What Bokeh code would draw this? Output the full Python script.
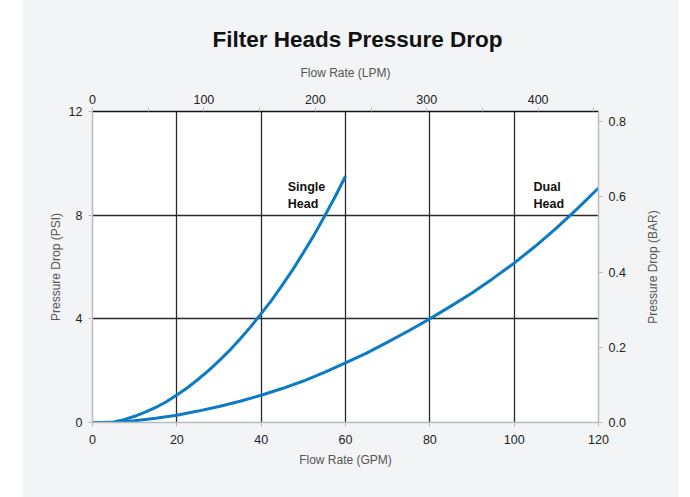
import math
from bokeh.plotting import figure
from bokeh.models import (Range1d, LinearAxis, FixedTicker, Spacer, ColumnDataSource,
                          NumeralTickFormatter)
from bokeh.layouts import row
from bokeh.embed import file_html
from bokeh.resources import INLINE
from bokeh.core.properties import value

# ---- data ----
single_gpm = [0, 2.5, 5, 7.5, 10, 12.5, 15, 17.5, 20, 22.5, 25, 27.5, 30, 32.5, 35, 37.5,
              40, 42.5, 45, 47.5, 50, 52.5, 55, 57.5, 60]
single_psi = [0, 0, 0.02, 0.11, 0.24, 0.4, 0.58, 0.8, 1.06, 1.34, 1.66, 2.0, 2.38, 2.78,
              3.22, 3.69, 4.2, 4.72, 5.3, 5.9, 6.55, 7.22, 7.95, 8.7, 9.5]
dual_gpm = [0, 5, 7.5, 10, 15, 20, 25, 30, 35, 40, 45, 50, 55, 60, 65, 70, 75, 80, 85, 90,
            95, 100, 105, 110, 115, 120]
dual_psi = [0, 0, 0.03, 0.07, 0.16, 0.28, 0.44, 0.62, 0.82, 1.05, 1.31, 1.6, 1.93, 2.3,
            2.68, 3.1, 3.54, 4.0, 4.49, 5.0, 5.56, 6.15, 6.8, 7.5, 8.25, 9.05]
label_text = ["Single\nHead", "Dual\nHead"]
label_gpm = [46.3, 104.6]
label_psi = [9.35, 9.35]

gpm_ticks = [0, 20, 40, 60, 80, 100, 120]
psi_ticks = [0, 4, 8, 12]
lpm_ticks = [0, 100, 200, 300, 400]
lpm_minor = [50, 150, 250, 350, 450]
bar_ticks = [0.0, 0.2, 0.4, 0.6, 0.8]
GPM_MAX = 120
PSI_MAX = 12
LPM_PER_GPM = 3.785
PSI_PER_BAR = 14.5038

FONT = "Liberation Sans"
BG = "#f3f4f6"
BLUE = "#0a7bc4"

p = figure(width=617, height=497, output_backend="svg", toolbar_location=None,
           x_range=Range1d(0, GPM_MAX), y_range=Range1d(0, PSI_MAX),
           min_border_left=69, min_border_right=42, min_border_top=111, min_border_bottom=75,
           background_fill_color="white", border_fill_color=BG, outline_line_color=None)

p.extra_x_ranges = {"lpm": Range1d(0, GPM_MAX * LPM_PER_GPM)}
p.extra_y_ranges = {"bar": Range1d(0, PSI_MAX / PSI_PER_BAR)}

p.title.text = "Filter Heads Pressure Drop"
p.title.align = "left"
p.title.offset = 120
p.title.text_font = FONT
p.title.text_font_size = "22.5px"
p.title.text_font_style = "bold"
p.title.text_color = "#111111"
p.title.standoff = 22

def style_axis(ax, label):
    ax.axis_label = label
    ax.axis_label_text_font = FONT
    ax.axis_label_text_font_size = "12px"
    ax.axis_label_text_font_style = "normal"
    ax.axis_label_text_color = "#555555"
    ax.major_label_text_font = FONT
    ax.major_label_text_font_size = "12.5px"
    ax.major_label_text_color = "#222222"
    ax.axis_line_color = "#bbbbbb"
    ax.axis_line_width = 1.5
    ax.major_tick_line_color = "#bbbbbb"
    ax.major_tick_in = 0
    ax.major_tick_out = 4
    ax.minor_tick_line_color = None

# bottom axis (GPM)
xa = p.xaxis[0]
xa.ticker = FixedTicker(ticks=gpm_ticks)
style_axis(xa, "Flow Rate (GPM)")
xa.major_label_standoff = 8
xa.axis_label_standoff = 6

# left axis (PSI)
ya = p.yaxis[0]
ya.ticker = FixedTicker(ticks=psi_ticks)
style_axis(ya, "Pressure Drop (PSI)")
ya.major_label_standoff = 6
ya.axis_label_standoff = 3

# top axis (LPM)
top = LinearAxis(x_range_name="lpm", ticker=FixedTicker(ticks=lpm_ticks, minor_ticks=lpm_minor))
style_axis(top, "Flow Rate (LPM)")
top.axis_line_color = "#111111"
top.minor_tick_line_color = "#bbbbbb"
top.minor_tick_in = 0
top.minor_tick_out = 4
top.major_label_standoff = 4
top.axis_label_standoff = 12
p.add_layout(top, "above")

# right axis (BAR); its title is drawn by the narrow panel to the right
right = LinearAxis(y_range_name="bar", ticker=FixedTicker(ticks=bar_ticks),
                   formatter=NumeralTickFormatter(format="0.0"))
style_axis(right, None)
right.major_label_standoff = 6
p.add_layout(right, "right")

# grids
p.xgrid.ticker = FixedTicker(ticks=gpm_ticks[1:-1])
p.ygrid.ticker = FixedTicker(ticks=psi_ticks[1:-1])
for g in (p.xgrid[0], p.ygrid[0]):
    g.grid_line_color = "#2a2a2a"
    g.grid_line_width = 1.3

src1 = ColumnDataSource(dict(x=single_gpm, y=single_psi))
src2 = ColumnDataSource(dict(x=dual_gpm, y=dual_psi))
p.line("x", "y", source=src1, line_color=BLUE, line_width=3, line_join="round")
p.line("x", "y", source=src2, line_color=BLUE, line_width=3, line_join="round")

lab = ColumnDataSource(dict(x=label_gpm, y=label_psi, t=label_text))
p.text("x", "y", text="t", source=lab, text_font=value(FONT), text_font_size="12.5px",
       text_font_style="bold", text_color="#111111", text_baseline="top",
       text_align="left", text_line_height=1.2)

# narrow panel carrying the right-hand axis title, reading bottom-to-top
p2 = figure(width=39, height=497, output_backend="svg", toolbar_location=None,
            x_range=Range1d(0, 1), y_range=Range1d(0, 1),
            x_axis_location=None, y_axis_location=None,
            title="Pressure Drop (BAR)", title_location="left",
            min_border_left=20, min_border_right=0, min_border_top=111, min_border_bottom=75,
            background_fill_color=BG, border_fill_color=BG, outline_line_color=None)
p2.grid.visible = False
p2.title.align = "center"
p2.title.text_font = FONT
p2.title.text_font_size = "12px"
p2.title.text_font_style = "normal"
p2.title.text_color = "#555555"
p2.title.standoff = 2

inner = row(p, p2, styles={"background-color": BG})
layout = row(Spacer(width=23, height=497), inner)
html = file_html(layout, INLINE)
open("out.html", "w").write(html)
